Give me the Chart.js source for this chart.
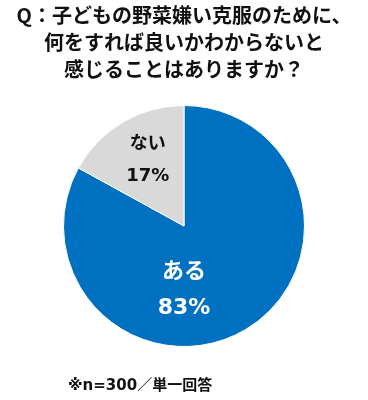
<!DOCTYPE html>
<html lang="ja">
<head>
  <meta charset="UTF-8">
  <title>野菜嫌い克服アンケート</title>
  <script src="https://cdn.jsdelivr.net/npm/chart.js"></script>
  <style>
    html,body{margin:0;padding:0;background:#fff;}
    .wrap{position:relative;width:368px;height:400px;}
    .note{
      position:absolute;left:68px;top:373px;
      font:bold 15px "DejaVu Sans","Noto Sans CJK JP",sans-serif;color:#111;
      white-space:nowrap;
    }
  </style>
</head>
<body>
  <div class="wrap">
    <canvas id="pie" width="368" height="400"></canvas>
    <div class="note">※n=300／単一回答</div>
  </div>

  <script>
    /* ---- data ---- */
    const titleLines = ['Q：子どもの野菜嫌い克服のために、', '何をすれば良いかわからないと', '感じることはありますか？'];
    const categories = ['ある', 'ない'];
    const shares = [83, 17];
    const colors = ['#0070C0', '#D9D9D9'];

    // label placement (fraction of radius from centre) and style per slice
    const labelStyle = [
      {dx: 0, dy: 0.38, gap: 0.30, size: 22, color: '#fff'},
      {dx: -0.30, dy: -0.68, gap: 0.27, size: 18, color: '#111'}
    ];

    const sliceLabels = {
      id: 'sliceLabels',
      afterDatasetsDraw(chart){
        const ctx = chart.ctx;
        chart.getDatasetMeta(0).data.forEach((arc, i) => {
          const r = arc.outerRadius, s = labelStyle[i];
          const x = arc.x + s.dx * r, y = arc.y + s.dy * r;
          ctx.save();
          ctx.fillStyle = s.color;
          ctx.textAlign = 'center';
          ctx.textBaseline = 'middle';
          ctx.font = 'bold ' + s.size + 'px "DejaVu Sans","Noto Sans CJK JP",sans-serif';
          ctx.fillText(categories[i], x, y);
          ctx.fillText(shares[i] + '%', x, y + s.gap * r);
          ctx.restore();
        });
      }
    };

    new Chart(document.getElementById('pie'), {
      type: 'pie',
      data: {
        labels: categories,
        datasets: [{data: shares, backgroundColor: colors, borderColor: '#fff', borderWidth: 1}]
      },
      options: {
        responsive: false,
        animation: false,
        layout: {padding: {bottom: 53}},
        plugins: {
          legend: {display: false},
          tooltip: {enabled: false},
          title: {
            display: true,
            text: titleLines,
            color: '#111',
            font: {family: '"Noto Sans CJK JP",sans-serif', size: 20, weight: 'bold', lineHeight: 1.35},
            padding: {top: 2, bottom: 22}
          }
        }
      },
      plugins: [sliceLabels]
    });
  </script>
</body>
</html>
